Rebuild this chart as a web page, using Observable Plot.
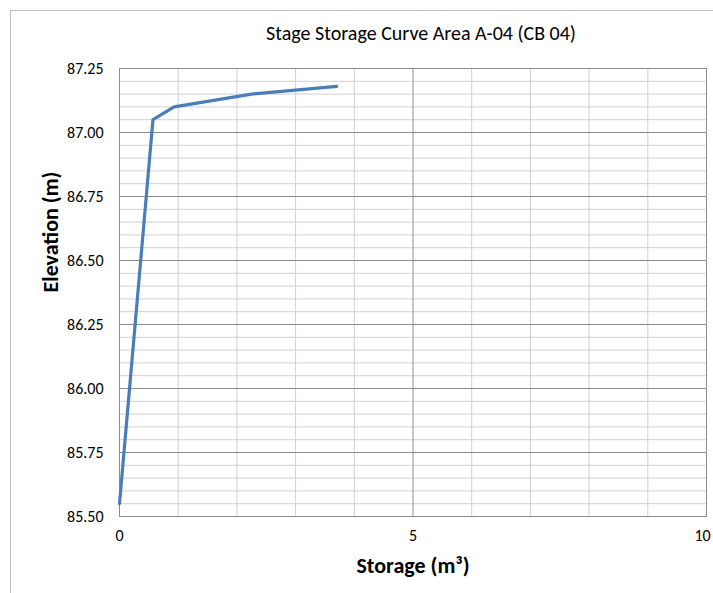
<!DOCTYPE html>
<html><head><meta charset="utf-8">
<script src="https://cdn.jsdelivr.net/npm/d3@7"></script>
<script src="https://cdn.jsdelivr.net/npm/@observablehq/plot@0.6"></script>
<style>
body{margin:0;background:#fff;overflow:hidden;}
#wrap{position:relative;width:713px;height:593px;}
#frame{position:absolute;left:10px;top:10px;width:720px;height:600px;border:1px solid #bfbfbf;box-sizing:border-box;}
#chart{position:absolute;left:0;top:0;}
</style></head>
<body><div id="wrap"><div id="frame"></div><div id="chart"></div></div>
<script>
const title = "Stage Storage Curve Area A-04 (CB 04)";
const storage = [0, 0.57, 0.93, 2.25, 3.70];
const elevation = [85.55, 87.05, 87.10, 87.15, 87.18];
const xTicks = [0, 5];
const xTickLast = [10];
const xMinor = [0,1,2,3,4,5,6,7,8,9,10];
const yTicks = [85.50, 85.75, 86.00, 86.25, 86.50, 86.75, 87.00, 87.25];
const yMinor = d3.range(0, 36).map(i => +(85.5 + i*0.05).toFixed(2));

const data = storage.map((s,i)=>({s, e: elevation[i]}));
const font = "Calibri, Carlito, 'Open Sans', 'Liberation Sans', sans-serif";

const chart = Plot.plot({
  width: 713, height: 593,
  marginLeft: 119, marginRight: 7, marginTop: 68, marginBottom: 77,
  style: {fontFamily: font, fontSize: "16px", color: "#000", background: "transparent"},
  x: {domain: [0, 10], label: null},
  y: {domain: [85.5, 87.25], label: null},
  marks: [
    Plot.ruleY(yMinor, {stroke: "#d0d0d0", strokeWidth: 1}),
    Plot.ruleX(xMinor, {stroke: "#d0d0d0", strokeWidth: 1}),
    Plot.ruleX([5], {stroke: "#a6a6a6", strokeWidth: 1}),
    Plot.ruleY(yTicks, {stroke: "#8c8c8c", strokeWidth: 1}),
    Plot.frame({stroke: "#8c8c8c"}),
    Plot.line(data, {x: "s", y: "e", stroke: "#4a7ebb", strokeWidth: 3.2}),
    Plot.axisX({ticks: xTicks, tickSize: 0, tickPadding: 13, tickFormat: d => d, fontSize: 16, label: null}),
    Plot.axisX({ticks: xTickLast, tickSize: 0, tickPadding: 13, tickFormat: d => d, fontSize: 16, label: null, dx: -4}),
    Plot.axisY({ticks: yTicks, tickSize: 0, tickPadding: 16, tickFormat: d => d.toFixed(2), fontSize: 16, label: null}),
    Plot.text([title], {frameAnchor: "top", lineAnchor: "middle", dx: 8, dy: -35, fontSize: 20, fill: "#000"}),
    Plot.text(["Storage (m³)"], {frameAnchor: "bottom", lineAnchor: "middle", dy: 49, fontSize: 22, fontWeight: "bold", fill: "#000"}),
    Plot.text(["Elevation (m)"], {frameAnchor: "left", lineAnchor: "middle", dx: -69, rotate: -90, fontSize: 22, fontWeight: "bold", fill: "#000"})
  ]
});
document.getElementById("chart").append(chart);
</script></body></html>
